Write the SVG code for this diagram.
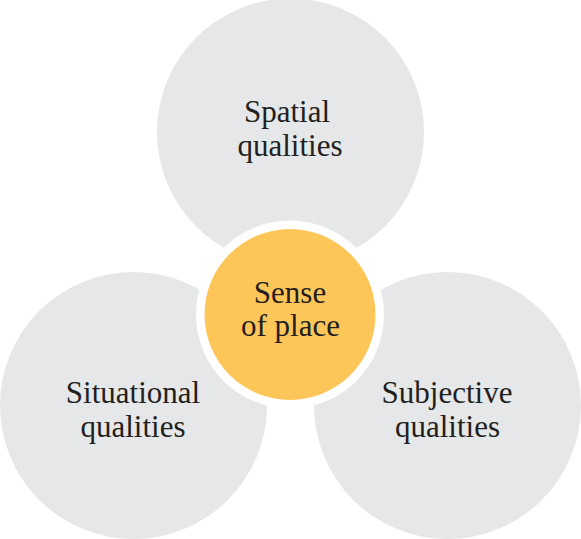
<svg xmlns="http://www.w3.org/2000/svg" width="581" height="539" viewBox="0 0 581 539">
<style>
.outer{fill:#e6e7e8}
.ring{fill:#ffffff}
.core{fill:#fec659}
.lbl{font-family:"Liberation Serif","Times New Roman",serif;font-size:31px;fill:#231f20;text-anchor:middle}
</style>
<rect width="581" height="539" fill="#ffffff"/>
<g id="spatial">
<circle class="outer" cx="290.5" cy="132" r="133.5"/>
<text class="lbl" x="287" y="122">Spatial</text>
<text class="lbl" x="290" y="156">qualities</text>
</g>
<g id="situational">
<circle class="outer" cx="133.5" cy="405.5" r="133.5"/>
<text class="lbl" x="133" y="403">Situational</text>
<text class="lbl" x="133" y="437">qualities</text>
</g>
<g id="subjective">
<circle class="outer" cx="447.5" cy="405.5" r="133.5"/>
<text class="lbl" x="447" y="403">Subjective</text>
<text class="lbl" x="447.5" y="437">qualities</text>
</g>
<g id="connectors"></g>
<g id="sense">
<circle class="ring" cx="290" cy="314.5" r="94"/>
<circle class="core" cx="290" cy="314.5" r="85.5"/>
<text class="lbl" x="290" y="303">Sense</text>
<text class="lbl" x="290.5" y="336">of place</text>
</g>
</svg>
